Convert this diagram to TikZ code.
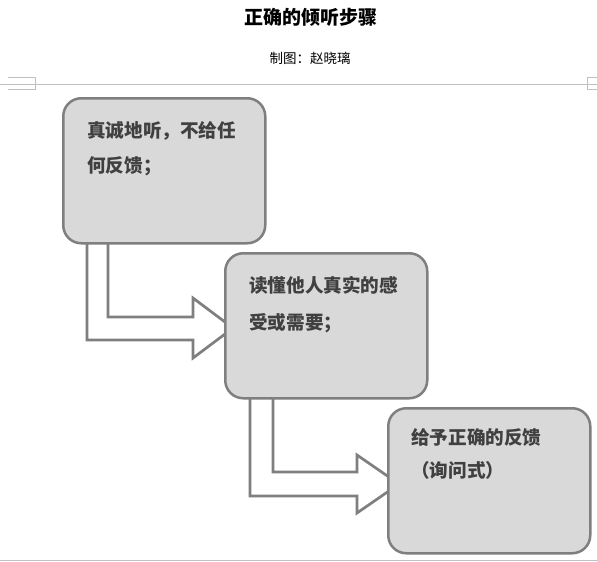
\documentclass[tikz,border=0pt]{standalone}
\usepackage{fontspec}
\newfontfamily\cjk{Noto Sans CJK SC}
\definecolor{boxfill}{HTML}{D9D9D9}
\definecolor{boxline}{HTML}{7F7F7F}
\definecolor{txtcol}{HTML}{404040}
\definecolor{rule}{HTML}{C0C0C0}
\begin{document}
\begin{tikzpicture}[x=1pt,y=-1pt,
  stepbox/.style={draw=boxline, fill=boxfill, line width=2.5pt, rounded corners=18pt,
    inner sep=0pt, anchor=north west, minimum width=202pt, minimum height=145pt},
  blockarrow/.style={draw=boxline, fill=white, line width=2.7pt, line join=miter},
  txt/.style={font=\cjk\bfseries\fontsize{18.6}{18.6}\selectfont, text=txtcol, anchor=base west, inner sep=0pt},
  ruleline/.style={draw=rule, line width=0.8pt}]
\useasboundingbox (0,0) rectangle (597,562);
\fill[white] (0,0) rectangle (597,562);
% header
\node[font=\cjk\bfseries\fontsize{19}{19}\selectfont, text=black] (title) at (311,17) {正确的倾听步骤};
\node[font=\cjk\fontsize{13.5}{13.5}\selectfont, text=black] (sub) at (310,58) {制图：赵晓璃};
% rules
\draw[ruleline] (0,84) -- (597,84);
\draw[ruleline] (8,77) -- (35,77) -- (35,89) -- (8,89);
\draw[ruleline] (597,77) -- (587,77) -- (587,89) -- (597,89);
\draw[ruleline] (0,560) -- (597,560);
% arrows
\draw[blockarrow] (87,230) -- (87,340) -- (193,340) -- (193,358) -- (233,328) -- (193,298) -- (193,317) -- (108,317) -- (108,230);
\draw[blockarrow] (250,385) -- (250,496) -- (357,496) -- (357,513) -- (399,484) -- (357,455) -- (357,472) -- (273,472) -- (273,385);
% boxes
\node[stepbox] (b1) at (62,97) {};
\node[stepbox] (b2) at (224,252) {};
\node[stepbox] (b3) at (387,407) {};
% texts
\node[txt] (t1a) at (87,137) {真诚地听，不给任};
\node[txt] (t1b) at (87,172) {何反馈；};
\node[txt] (t2a) at (249,292) {读懂他人真实的感};
\node[txt] (t2b) at (249,329) {受或需要；};
\node[txt] (t3a) at (411,444) {给予正确的反馈};
\node[txt] (t3b) at (411,477) {（询问式）};
\end{tikzpicture}
\end{document}
